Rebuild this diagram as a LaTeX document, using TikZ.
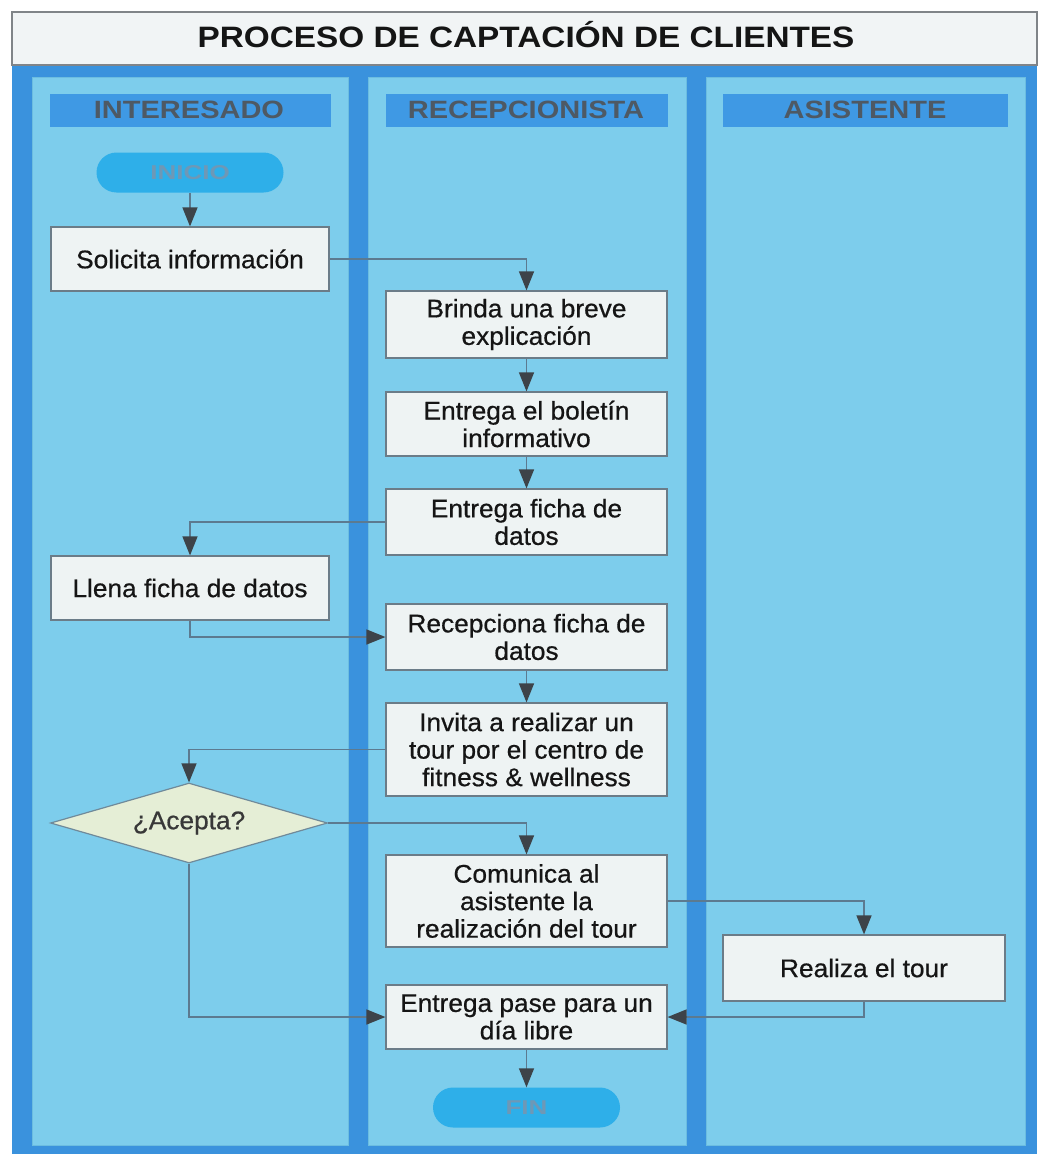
\documentclass[tikz,border=0pt]{standalone}
\usepackage{fontspec}
\setmainfont{Liberation Sans}[FakeStretch=1.03,FakeBold=0.6]
\newfontfamily\titlefam{Liberation Sans}[FakeStretch=1.13]
\newfontfamily\headfam{Liberation Sans}[FakeStretch=1.16]
\newfontfamily\termfam{Liberation Sans}[FakeStretch=1.3]
\usetikzlibrary{arrows.meta,shapes.geometric,shapes.misc}

\definecolor{outerblue}{HTML}{3A92DD}
\definecolor{lanefill}{HTML}{7DCDEC}
\definecolor{lanedraw}{HTML}{6CBDE0}
\definecolor{headfill}{HTML}{3F99E4}
\definecolor{headtext}{HTML}{4E5964}
\definecolor{termfill}{HTML}{2EAFE9}
\definecolor{termtext}{HTML}{6E98B6}
\definecolor{boxfill}{HTML}{EEF3F3}
\definecolor{boxdraw}{HTML}{6B7C88}
\definecolor{lineclr}{HTML}{5C7A90}
\definecolor{arrowclr}{HTML}{3D4349}
\definecolor{diafill}{HTML}{E5EED6}
\definecolor{diadraw}{HTML}{6F8A9A}
\definecolor{titlefill}{HTML}{F1F4F5}
\definecolor{titledraw}{HTML}{808488}
\definecolor{textclr}{HTML}{151515}

\begin{document}
\begin{tikzpicture}[x=1pt,y=-1pt,
  lanebox/.style={fill=lanefill,draw=lanedraw,line width=1pt},
  headbar/.style={fill=headfill,draw=none},
  headlabel/.style={anchor=base,text=headtext,font=\headfam\bfseries\fontsize{25}{28}\selectfont,inner sep=0pt},
  procbox/.style={rectangle,draw=boxdraw,fill=boxfill,line width=1.2pt,
    minimum width=281pt,minimum height=65pt,inner sep=0pt,align=center,
    text=textclr,font=\fontsize{25.5}{27.5}\selectfont},
  terminal/.style={rounded rectangle,fill=termfill,draw=none,
    minimum width=187pt,minimum height=40pt,inner sep=0pt,
    text=termtext,font=\termfam\bfseries\fontsize{20}{22}\selectfont},
  decision/.style={diamond,aspect=3.46,draw=diadraw,fill=diafill,line width=1.2pt,
    minimum width=277pt,minimum height=80pt,inner sep=0pt,
    text=textclr!85,font=\fontsize{25.5}{27.5}\selectfont},
  flow/.style={draw=lineclr,line width=1.4pt,
    -{Triangle[width=15pt,length=19pt,color=arrowclr]}}
]
\useasboundingbox (0,0) rectangle (1040,1156);
\fill[white] (0,0) rectangle (1040,1156);

% title band and outer frame
\fill[outerblue] (12,65) rectangle (1037,1154);
\draw[titledraw,fill=titlefill,line width=1.5pt] (12,12) rectangle (1037,65);
\node[anchor=base,inner sep=0pt,text=textclr,font=\titlefam\bfseries\fontsize{29.5}{32}\selectfont]
  (title) at (526,48) {PROCESO DE CAPTACIÓN DE CLIENTES};

% swimlanes
\draw[lanebox] (32,77) rectangle (348,1145);
\draw[lanebox] (368,77) rectangle (686,1145);
\draw[lanebox] (706,77) rectangle (1025,1145);

\fill[headbar] (50,94) rectangle (331,127);
\fill[headbar] (386,94) rectangle (668,127);
\fill[headbar] (723,94) rectangle (1008,127);
\node[headlabel] (h1) at (189,118) {INTERESADO};
\node[headlabel] (h2) at (526,118) {RECEPCIONISTA};
\node[headlabel] (h3) at (865,118) {ASISTENTE};

% flow nodes
\node[terminal] (inicio) at (190,172.5) {INICIO};
\node[procbox,minimum width=278pt,minimum height=64pt] (sol) at (190,259) {Solicita información};
\node[procbox,minimum height=67pt] (brinda) at (526.5,324.5) {Brinda una breve\\explicación};
\node[procbox,minimum height=64pt] (boletin) at (526.5,424) {Entrega el boletín\\informativo};
\node[procbox,minimum height=66pt] (ficha) at (526.5,522) {Entrega ficha de\\datos};
\node[procbox,minimum width=278pt,minimum height=64pt] (llena) at (190,588) {Llena ficha de datos};
\node[procbox,minimum height=66pt] (recep) at (526.5,637) {Recepciona ficha de\\datos};
\node[procbox,minimum height=93pt] (invita) at (526.5,749.5) {Invita a realizar un\\tour por el centro de\\fitness \& wellness};
\node[decision] (acepta) at (189,823) {¿Acepta?};
\node[procbox,minimum height=92pt] (comunica) at (526.5,901) {Comunica al\\asistente la\\realización del tour};
\node[procbox,minimum width=282pt,minimum height=66pt] (tour) at (864,968) {Realiza el tour};
\node[procbox,minimum height=64pt] (pase) at (526.5,1017) {Entrega pase para un\\día libre};
\node[terminal] (fin) at (526.5,1107.5) {FIN};

% connectors
\draw[flow] (inicio.south) -- (sol.north);
\draw[flow] (sol.east) -| (brinda.north);
\draw[flow] (brinda.south) -- (boletin.north);
\draw[flow] (boletin.south) -- (ficha.north);
\draw[flow] (ficha.west) -| (llena.north);
\draw[flow] (llena.south) |- (recep.west);
\draw[flow] (recep.south) -- (invita.north);
\draw[flow] (invita.west) -| (acepta.north);
\draw[flow] (acepta.east) -| (comunica.north);
\draw[flow] (comunica.east) -| (tour.north);
\draw[flow] (tour.south) |- (pase.east);
\draw[flow] (acepta.south) |- (pase.west);
\draw[flow] (pase.south) -- (fin.north);
\end{tikzpicture}
\end{document}
